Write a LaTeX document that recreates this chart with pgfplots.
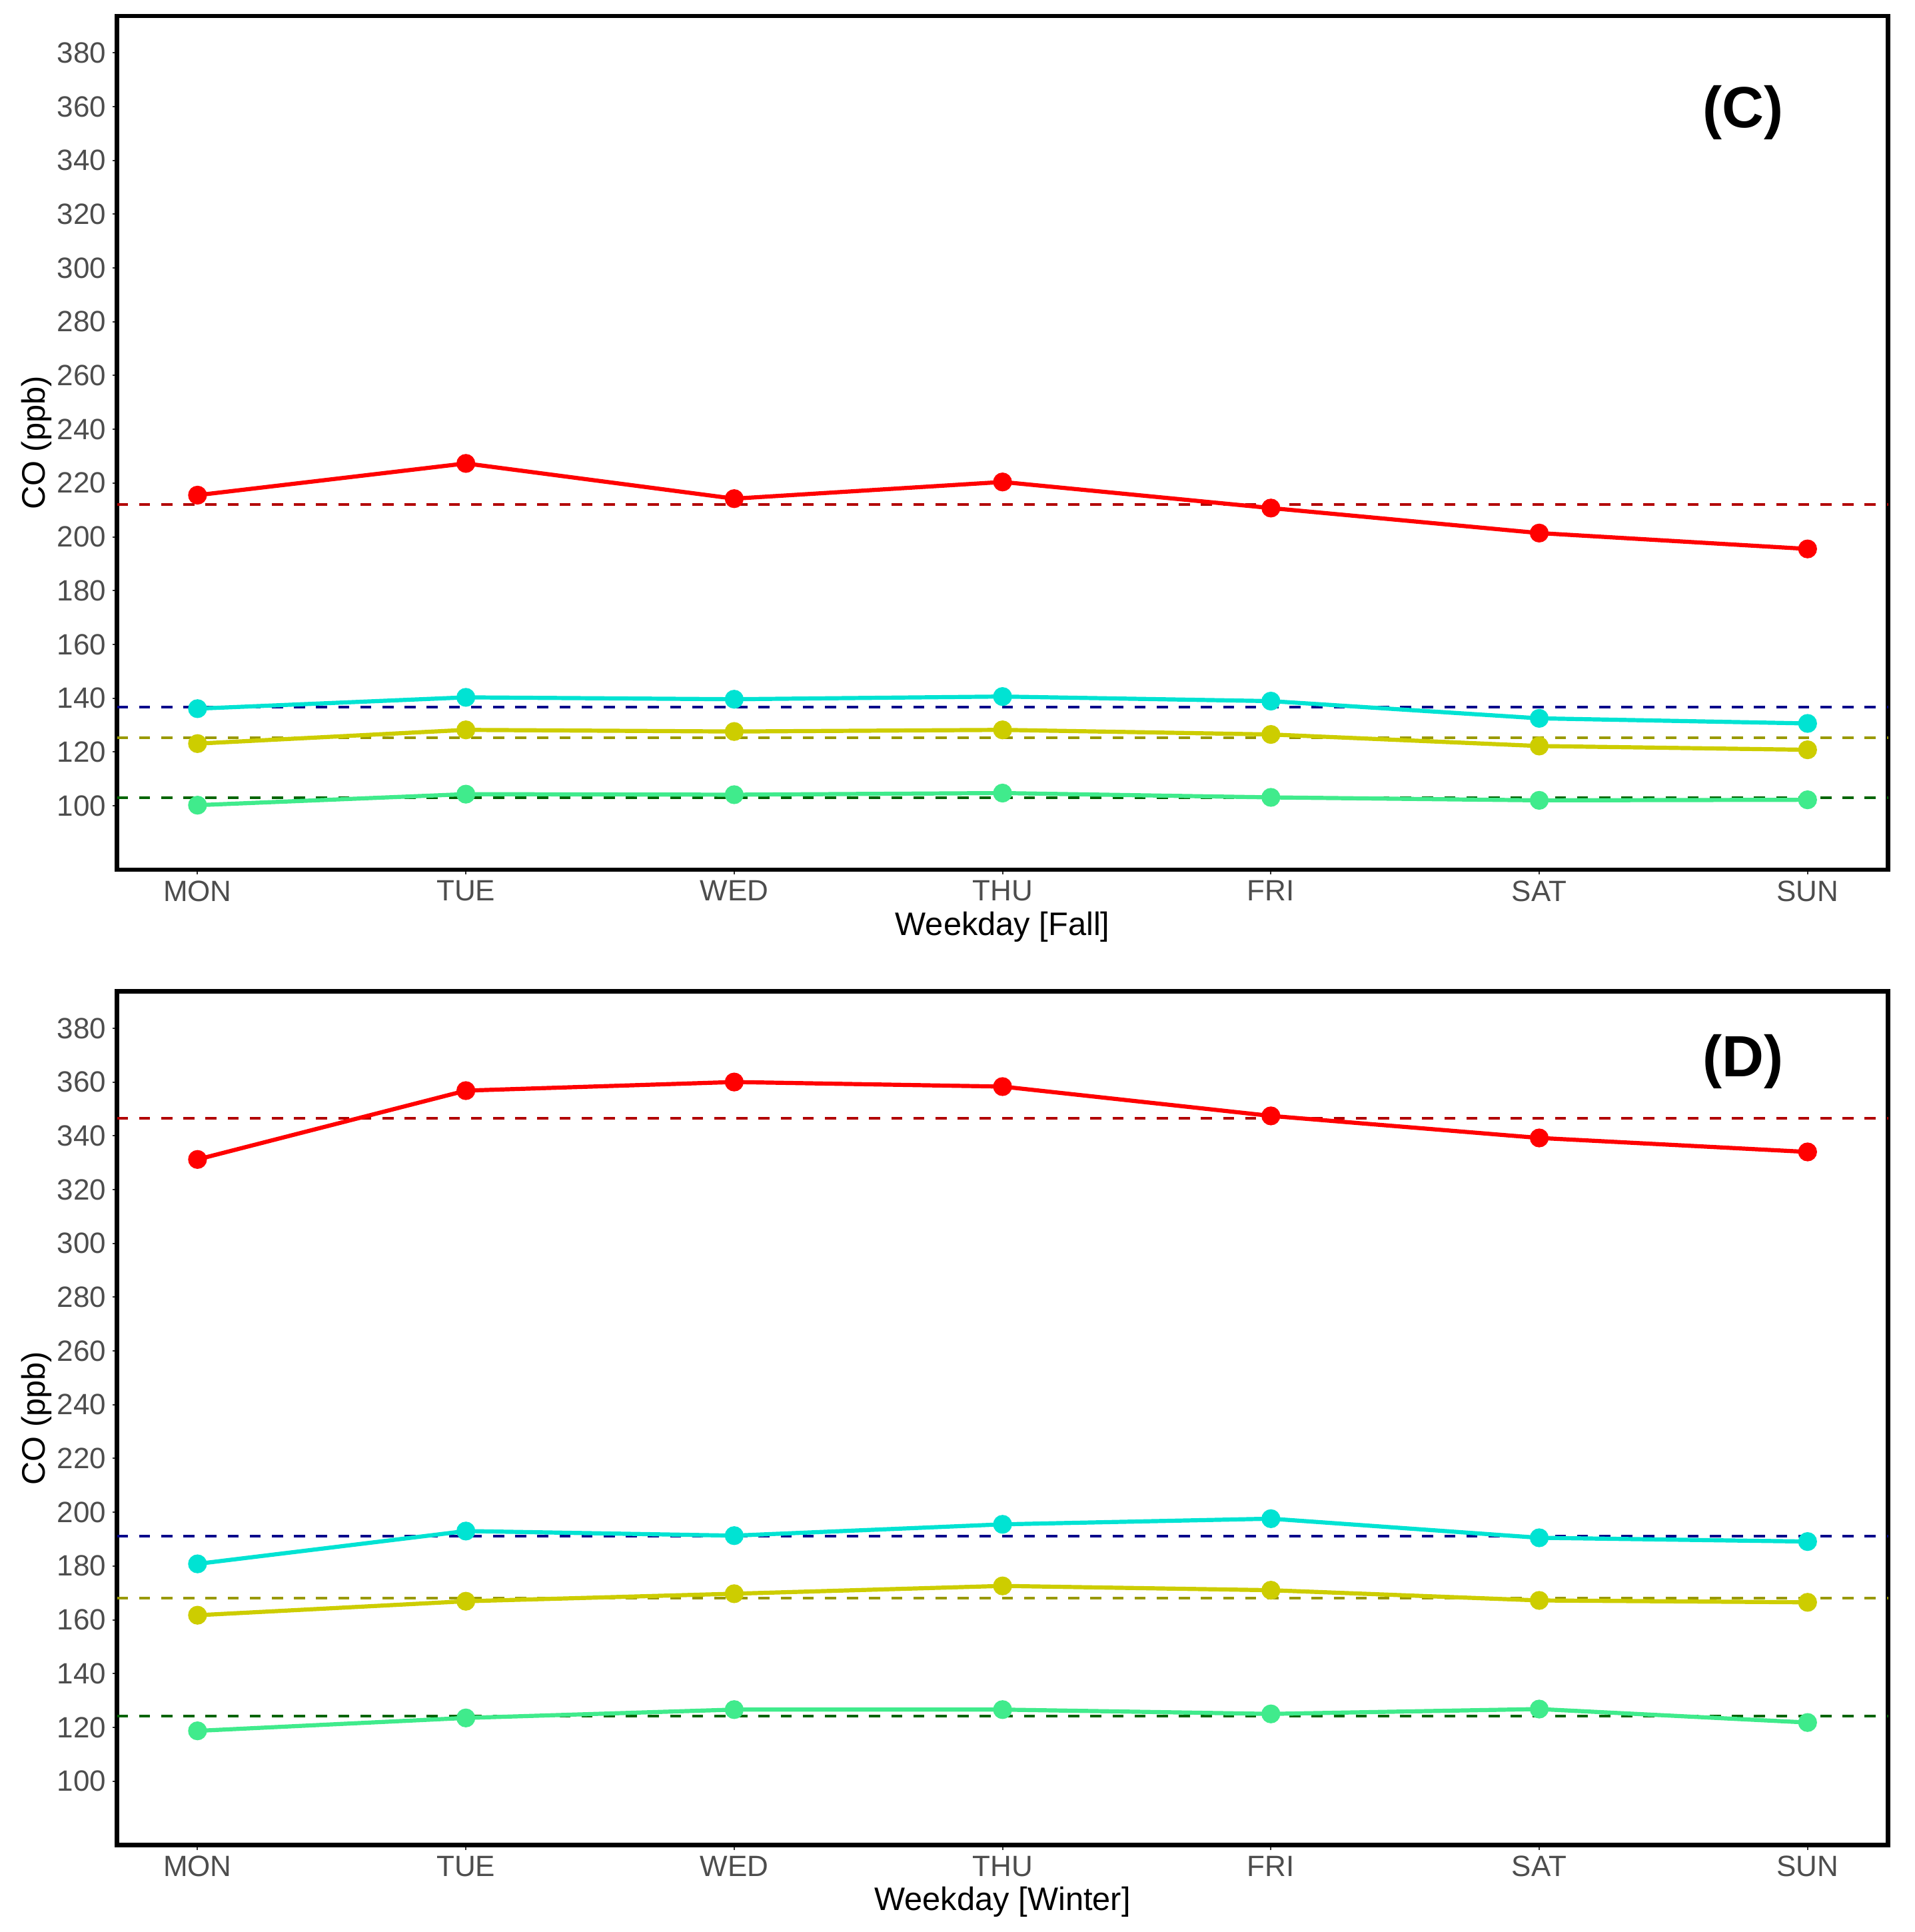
\documentclass[border=0pt]{standalone}
\usepackage{pgfplots}
\pgfplotsset{compat=1.18}
\usepackage{fontspec}
\setmainfont{Liberation Sans}
\definecolor{cRed}{HTML}{FF0000}
\definecolor{cRedD}{HTML}{B20000}
\definecolor{cCyan}{HTML}{00E3D3}
\definecolor{cBlueD}{HTML}{00008B}
\definecolor{cYel}{HTML}{CDCD00}
\definecolor{cYelD}{HTML}{999900}
\definecolor{cGrn}{HTML}{40EB8C}
\definecolor{cGrnD}{HTML}{006400}
\definecolor{tickgray}{HTML}{4D4D4D}
\definecolor{tickmark}{HTML}{333333}
\pgfplotsset{
  panel/.style={
    scale only axis,
    width=664.5pt, height=320.25pt,
    xmin=-0.3, xmax=6.3, ymin=76.2, ymax=393.7,
    xtick={0,1,2,3,4,5,6},
    xticklabels={MON,TUE,WED,THU,FRI,SAT,SUN},
    ytick={100,120,...,380},
    tick align=outside,
    major tick length=1.75pt,
    tick style={color=tickmark, line width=0.5pt},
    xtick pos=bottom, ytick pos=left,
    axis line style={line width=1.7pt, black},
    /pgf/number format/assume math mode=true,
    /pgf/number format/1000 sep={},
    ticklabel style={font=\fontsize{11}{11}\selectfont, text=tickgray},
    yticklabel style={inner xsep=2.2pt},
    xticklabel style={yshift=1.2pt},
    label style={font=\fontsize{12.2}{12.2}\selectfont},
    ylabel={CO (ppb)},
    ylabel style={at={(axis description cs:-0.0406,0.5)}, anchor=base},
    xlabel style={at={(axis description cs:0.5,-0.0765)}, anchor=base},
    clip=false,
  },
  ser/.style={line width=1.55pt, mark=*, mark size=2.75pt, mark options={solid}},
  hl/.style={line width=1pt, dash pattern=on 4.15pt off 4.15pt, forget plot},
}
\begin{document}
\begin{tikzpicture}[x=1pt,y=1pt]
\useasboundingbox (0,0) rectangle (718.25,-724.75);
\begin{axis}[panel, at={(43.9pt,-6pt)}, anchor=north west, xlabel={Weekday [Fall]}]
\addplot[hl, cRedD] coordinates {(-0.3,212.1) (6.3,212.1)};
\addplot[hl, cBlueD] coordinates {(-0.3,136.7) (6.3,136.7)};
\addplot[hl, cYelD] coordinates {(-0.3,125.2) (6.3,125.2)};
\addplot[hl, cGrnD] coordinates {(-0.3,103.0) (6.3,103.0)};
\addplot[ser, cRed] coordinates {(0,215.5) (1,227.3) (2,214.2) (3,220.4) (4,210.7) (5,201.4) (6,195.5)};
\addplot[ser, cCyan] coordinates {(0,136.1) (1,140.3) (2,139.6) (3,140.6) (4,138.9) (5,132.5) (6,130.6)};
\addplot[ser, cYel] coordinates {(0,123.1) (1,128.2) (2,127.6) (3,128.2) (4,126.5) (5,122.2) (6,120.8)};
\addplot[ser, cGrn] coordinates {(0,100.2) (1,104.3) (2,104.1) (3,104.7) (4,103.1) (5,102.0) (6,102.2)};
\node[font=\fontsize{21.8}{21.8}\selectfont\bfseries] at (axis cs:5.76,357.7) {(C)};
\end{axis}
\begin{axis}[panel, at={(43.9pt,-371.9pt)}, anchor=north west, xlabel={Weekday [Winter]}]
\addplot[hl, cRedD] coordinates {(-0.3,346.5) (6.3,346.5)};
\addplot[hl, cBlueD] coordinates {(-0.3,191.0) (6.3,191.0)};
\addplot[hl, cYelD] coordinates {(-0.3,168.0) (6.3,168.0)};
\addplot[hl, cGrnD] coordinates {(-0.3,124.2) (6.3,124.2)};
\addplot[ser, cRed] coordinates {(0,331.2) (1,356.8) (2,360.0) (3,358.3) (4,347.4) (5,339.2) (6,334.0)};
\addplot[ser, cCyan] coordinates {(0,180.8) (1,193.0) (2,191.3) (3,195.5) (4,197.6) (5,190.5) (6,189.1)};
\addplot[ser, cYel] coordinates {(0,161.7) (1,166.9) (2,169.7) (3,172.6) (4,171.0) (5,167.2) (6,166.5)};
\addplot[ser, cGrn] coordinates {(0,118.7) (1,123.5) (2,126.6) (3,126.6) (4,125.0) (5,126.8) (6,121.8)};
\node[font=\fontsize{21.8}{21.8}\selectfont\bfseries] at (axis cs:5.76,367.6) {(D)};
\end{axis}
\end{tikzpicture}
\end{document}
